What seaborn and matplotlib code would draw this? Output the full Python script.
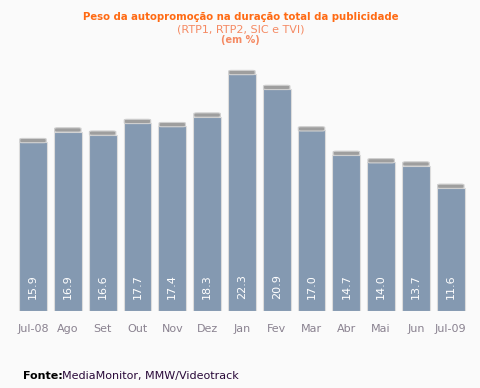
import pandas as pd
import matplotlib.pyplot as plt
import matplotlib.patches as mpatches
import seaborn as sns

# --- DONNEES ---
meses = ["Jul-08", "Ago", "Set", "Out", "Nov", "Dez", "Jan", "Fev", "Mar", "Abr", "Mai", "Jun", "Jul-09"]
valores = [15.9, 16.9, 16.6, 17.7, 17.4, 18.3, 22.3, 20.9, 17.0, 14.7, 14.0, 13.7, 11.6]

df = pd.DataFrame({"Mes": meses, "Valor": valores})

sns.set_theme(style="white")
plt.rcParams["font.family"] = ["DejaVu Sans"]

fig = plt.figure(figsize=(4.81, 3.88), dpi=100, facecolor="#fafafa")
ax = fig.add_axes([0.0324, 0.198, 0.941, 0.685])
ax.set_facecolor("#fafafa")

sns.barplot(data=df, x="Mes", y="Valor", color="#8499b1", saturation=1,
            width=0.8, edgecolor="#dcdcdc", linewidth=0.8, ax=ax)

# petit chapeau gris en haut de chaque barre
for p in ax.patches[:len(valores)]:
    x0, w, h = p.get_x(), p.get_width(), p.get_height()
    ax.add_patch(mpatches.FancyBboxPatch((x0 + 0.02, h - 0.05), w - 0.04, 0.4,
                                         boxstyle="round,pad=0,rounding_size=0.08",
                                         facecolor="#9e9e9e", edgecolor="#cfcfcf",
                                         linewidth=0.8, zorder=3))

for i, v in enumerate(valores):
    ax.text(i, 1.1, f"{v:.1f}", rotation=90, ha="center", va="bottom",
            color="white", fontsize=8)

ax.set_xlim(-0.5, len(meses) - 0.5)
ax.set_ylim(0, 25)
ax.set_xlabel("")
ax.set_ylabel("")
ax.set_yticks([])
ax.tick_params(axis="x", length=0, pad=9, labelsize=8, labelcolor="#8a8290")
for s in ax.spines.values():
    s.set_visible(False)

fig.text(0.5, 0.956, "Peso da autopromoção na duração total da publicidade",
         ha="center", va="center", color="#ff6a13", fontsize=7.3, fontweight="bold")
fig.text(0.5, 0.925, "(RTP1, RTP2, SIC e TVI)", ha="center", va="center",
         color="#f58a63", fontsize=8)
fig.text(0.5, 0.897, "(em %)", ha="center", va="center",
         color="#f58a63", fontsize=7, fontweight="bold")

fig.text(0.048, 0.031, "Fonte:", ha="left", va="center", color="black",
         fontsize=8, fontweight="bold")
fig.text(0.128, 0.031, "MediaMonitor, MMW/Videotrack", ha="left", va="center",
         color="#2a0a3a", fontsize=8)

fig.savefig("out.png", dpi=100, facecolor=fig.get_facecolor())
